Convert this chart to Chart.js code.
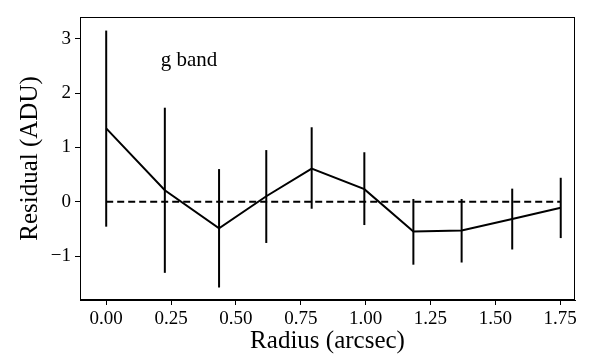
<!DOCTYPE html>
<html>
<head>
<meta charset="utf-8">
<script src="https://cdn.jsdelivr.net/npm/chart.js@4"></script>
<style>
  html, body { margin: 0; padding: 0; background: #fff; }
  #wrap { width: 598px; height: 354px; }
</style>
</head>
<body>
<div id="wrap"><canvas id="residualChart" width="598" height="354"></canvas></div>
<script>
// Valores
const radius = [0.0, 0.226, 0.435, 0.617, 0.792, 0.995, 1.184, 1.370, 1.565, 1.752];
const residual = [1.35, 0.21, -0.49, 0.10, 0.61, 0.23, -0.55, -0.53, -0.32, -0.11];
const errTop = [3.15, 1.73, 0.60, 0.95, 1.37, 0.91, 0.05, 0.05, 0.24, 0.44];
const errBottom = [-0.46, -1.31, -1.58, -0.76, -0.13, -0.43, -1.16, -1.12, -0.88, -0.67];
const zeroLineX = [0.0, 1.75];
const xTicks = [0.0, 0.25, 0.5, 0.75, 1.0, 1.25, 1.5, 1.75];
const yTicks = [-1, 0, 1, 2, 3];
const bandLabel = 'g band';

const serif = "'Liberation Serif', 'DejaVu Serif', serif";

// Barras de erro + moldura + rótulo
const extras = {
    id: 'extras',
    afterDatasetsDraw(chart) {
        const { ctx, chartArea, scales } = chart;
        const xs = scales.x, ys = scales.y;
        ctx.save();
        ctx.strokeStyle = '#000';
        ctx.lineWidth = 2;
        for (let i = 0; i < radius.length; i++) {
            const px = xs.getPixelForValue(radius[i]);
            ctx.beginPath();
            ctx.moveTo(px, ys.getPixelForValue(errTop[i]));
            ctx.lineTo(px, ys.getPixelForValue(errBottom[i]));
            ctx.stroke();
        }
        ctx.lineWidth = 1;
        ctx.strokeRect(chartArea.left + 0.5, chartArea.top + 0.5,
            chartArea.right - chartArea.left - 1, chartArea.bottom - chartArea.top - 1);
        ctx.fillStyle = '#000';
        ctx.font = '21px ' + serif;
        ctx.textBaseline = 'alphabetic';
        ctx.textAlign = 'left';
        ctx.fillText(bandLabel, xs.getPixelForValue(0.21), ys.getPixelForValue(2.50));
        ctx.restore();
    }
};

const ctx = document.getElementById('residualChart').getContext('2d');
new Chart(ctx, {
    type: 'line',
    data: {
        datasets: [{
            data: radius.map((r, i) => ({ x: r, y: residual[i] })),
            borderColor: '#000',
            borderWidth: 2,
            pointRadius: 0,
            tension: 0,
            fill: false,
        }, {
            data: zeroLineX.map(x => ({ x: x, y: 0 })),
            borderColor: '#000',
            borderWidth: 2,
            borderDash: [7, 4],
            pointRadius: 0,
            fill: false,
        }]
    },
    options: {
        responsive: false,
        animation: false,
        layout: { padding: { left: 0, right: 23, top: 17, bottom: 0 } },
        plugins: {
            legend: { display: false },
            tooltip: { enabled: false }
        },
        scales: {
            x: {
                type: 'linear',
                min: -0.101,
                max: 1.807,
                afterBuildTicks(scale) { scale.ticks = xTicks.map(v => ({ value: v })); },
                afterFit(scale) { scale.height = 54; },
                grid: { drawOnChartArea: false, drawTicks: true, tickLength: 5, color: '#000' },
                border: { display: true, color: '#000' },
                ticks: {
                    color: '#000',
                    padding: 3,
                    maxRotation: 0,
                    font: { family: serif, size: 19 },
                    callback: v => v.toFixed(2)
                },
                title: {
                    display: true,
                    text: 'Radius (arcsec)',
                    color: '#000',
                    font: { family: serif, size: 25 },
                    padding: { top: 0, bottom: -2 }
                }
            },
            y: {
                min: -1.81,
                max: 3.40,
                afterBuildTicks(scale) { scale.ticks = yTicks.map(v => ({ value: v })); },
                afterFit(scale) { scale.width = 80; },
                grid: { drawOnChartArea: false, drawTicks: true, tickLength: 5, color: '#000' },
                border: { display: true, color: '#000' },
                ticks: {
                    color: '#000',
                    padding: 4,
                    font: { family: serif, size: 19 },
                    callback: v => v < 0 ? '\u2212' + Math.abs(v) : String(v)
                },
                title: {
                    display: true,
                    text: 'Residual (ADU)',
                    color: '#000',
                    font: { family: serif, size: 25 },
                    padding: { top: 15, bottom: 0 }
                }
            }
        }
    },
    plugins: [extras]
});
</script>
</body>
</html>
